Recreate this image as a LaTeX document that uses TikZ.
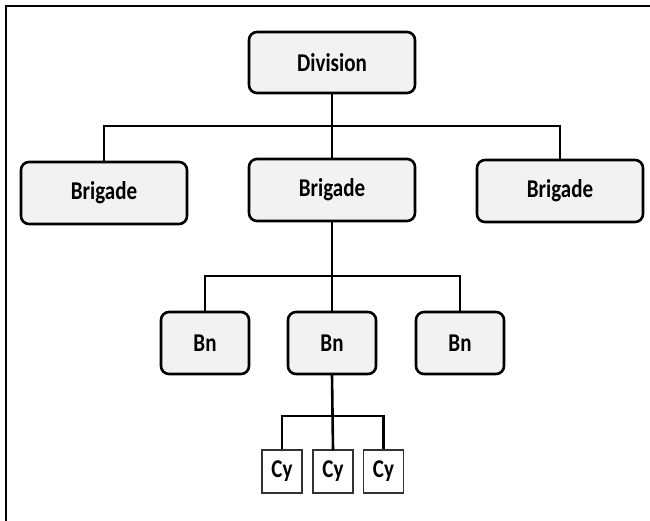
\documentclass[tikz,border=0pt]{standalone}
\usepackage{fontspec}
\setmainfont{Carlito}
\newcommand{\tallt}[1]{\scalebox{1}[1.22]{#1}}
\begin{document}
\begin{tikzpicture}[x=1pt,y=-1pt,
  unitbox/.style={draw=black,line width=2.6pt,fill=gray!10,rounded corners=8pt,
    inner sep=0pt,font=\fontsize{21}{24}\selectfont\bfseries},
  cybox/.style={draw=black!80,line width=1.6pt,fill=white,inner sep=0pt,
    minimum width=40pt,minimum height=43pt,font=\fontsize{21}{24}\selectfont\bfseries},
  link/.style={line width=2.6pt,line cap=rect}]
\useasboundingbox (0,0) rectangle (650,520);
\draw[line width=2pt] (5.5,530) -- (5.5,5.5) -- (660,5.5);
\node[unitbox,minimum width=166pt,minimum height=61pt] (div) at (332,62.5) {\tallt{Division}};
\node[unitbox,minimum width=166pt,minimum height=62pt] (b1) at (104,193) {\tallt{Brigade}};
\node[unitbox,minimum width=166pt,minimum height=62pt] (b2) at (332,190) {\tallt{Brigade}};
\node[unitbox,minimum width=166pt,minimum height=62pt] (b3) at (560,191) {\tallt{Brigade}};
\node[unitbox,minimum width=88pt,minimum height=62pt] (n1) at (205,343) {\tallt{Bn}};
\node[unitbox,minimum width=88pt,minimum height=62pt] (n2) at (332,343) {\tallt{Bn}};
\node[unitbox,minimum width=88pt,minimum height=62pt] (n3) at (460,343) {\tallt{Bn}};
\node[cybox] (c1) at (282,471.5) {\tallt{Cy}};
\node[cybox] (c2) at (333,471.5) {\tallt{Cy}};
\node[cybox] (c3) at (383.5,471.5) {\tallt{Cy}};
\coordinate (j1) at (332,126);
\coordinate (j2) at (332,276);
\coordinate (j3) at (332,416);
\draw[link] (div.south) -- (b2.north);
\draw[link,line cap=butt] (b1.north) |- (j1) -| (b3.north);
\draw[link] (b2.south) -- (n2.north);
\draw[link,line cap=butt] (n1.north) |- (j2) -| (n3.north);
\draw[link] (n2.south) -- (c2.north);
\draw[link,line cap=butt] (c1.north) |- (j3) -| (c3.north);
\end{tikzpicture}
\end{document}
